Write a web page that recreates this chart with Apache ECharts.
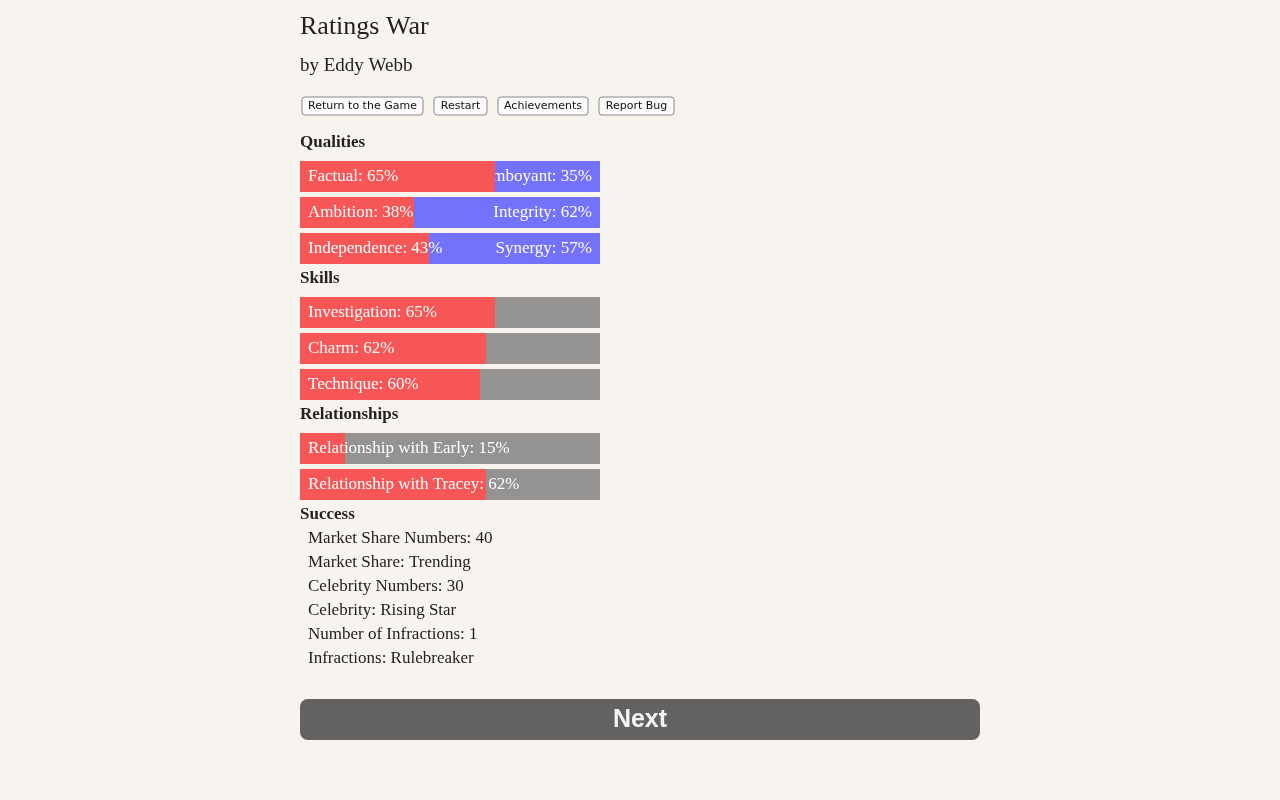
<!DOCTYPE html>
<html><head><meta charset="utf-8">
<script src="https://cdn.jsdelivr.net/npm/echarts@6/dist/echarts.min.js"></script>
<style>html,body{margin:0;background:#f7f4f0}#c{width:1280px;height:800px}</style>
</head><body><div id="c"></div>
<script>
const qualityLeft = ['Factual','Ambition','Independence'];
const qualityRight = ['Flamboyant','Integrity','Synergy'];
const qualityValues = [65,38,43];
const skillNames = ['Investigation','Charm','Technique'];
const skillValues = [65,62,60];
const relNames = ['Relationship with Early','Relationship with Tracey'];
const relValues = [15,62];
const successLines = ['Market Share Numbers: 40','Market Share: Trending','Celebrity Numbers: 30','Celebrity: Rising Star','Number of Infractions: 1','Infractions: Rulebreaker'];
const buttons = ['Return to the Game','Restart','Achievements','Report Bug'];

const RED='#f75656', BLUE='#7272fa', GRAY='#949391';
const SERIF='"Liberation Serif","DejaVu Serif",serif';
const chart = echarts.init(document.getElementById('c'));

const groups = [
  {names: qualityLeft, vals: qualityValues, right: qualityRight, rest: BLUE, top: 158.5},
  {names: skillNames, vals: skillValues, rest: GRAY, top: 294.5},
  {names: relNames, vals: relValues, rest: GRAY, top: 430.5}
];
const grid=[], xAxis=[], yAxis=[], series=[];
groups.forEach((g,i)=>{
  grid.push({left:300, width:300, top:g.top, height:36*g.names.length});
  xAxis.push({gridIndex:i, type:'value', min:0, max:100, show:false});
  yAxis.push({gridIndex:i, type:'category', inverse:true, data:g.names, show:false});
  const lbl = {show:true, position:'insideLeft', color:'#fff', fontFamily:SERIF, fontSize:17, distance:8};
  series.push({type:'bar', xAxisIndex:i, yAxisIndex:i, stack:'s'+i, barWidth:31, itemStyle:{color:RED},
    data:g.vals, label:{...lbl, formatter:p=>g.names[p.dataIndex]+': '+p.value+'%'}, z:3});
  series.push({type:'bar', xAxisIndex:i, yAxisIndex:i, stack:'s'+i, barWidth:31, itemStyle:{color:g.rest},
    data:g.vals.map(v=>100-v), z:2,
    label: g.right ? {...lbl, position:'insideRight', formatter:p=>g.right[p.dataIndex]+': '+p.value+'%'} : {show:false}});
});

const graphic = [
  {type:'text', left:300, top:14, style:{text:'Ratings War', font:'26px '+SERIF, fill:'#222'}},
  {type:'text', left:300, top:57, style:{text:'by Eddy Webb', font:'19px '+SERIF, fill:'#222'}},
  {type:'text', left:300, top:134, style:{text:'Qualities', font:'bold 17px '+SERIF, fill:'#222'}},
  {type:'text', left:300, top:270, style:{text:'Skills', font:'bold 17px '+SERIF, fill:'#222'}},
  {type:'text', left:300, top:406, style:{text:'Relationships', font:'bold 17px '+SERIF, fill:'#222'}},
  {type:'text', left:300, top:506, style:{text:'Success', font:'bold 17px '+SERIF, fill:'#222'}}
];
successLines.forEach((t,i)=>graphic.push({type:'text', left:308, top:530+24*i, style:{text:t, font:'17px '+SERIF, fill:'#222'}}));
const bx=[302,434,498,599], bw=[121,53,90,75];
buttons.forEach((t,i)=>{
  graphic.push({type:'rect', shape:{x:bx[i], y:97, width:bw[i], height:18, r:3}, style:{fill:'#fbfbfb', stroke:'#8a8a8a', lineWidth:1}});
  graphic.push({type:'text', x:bx[i]+bw[i]/2, y:106, style:{text:t, font:'11px "DejaVu Sans",sans-serif', fill:'#111', align:'center', verticalAlign:'middle'}});
});
graphic.push({type:'rect', shape:{x:300, y:699, width:680, height:41, r:8}, style:{fill:'#636260'}});
graphic.push({type:'text', x:640, y:720, style:{text:'Next', font:'bold 25px "Liberation Sans",Arial,sans-serif', fill:'#f4f4f4', align:'center', verticalAlign:'middle'}});

chart.setOption({backgroundColor:'#f7f4f0', animation:false, grid, xAxis, yAxis, series, graphic});
</script></body></html>
